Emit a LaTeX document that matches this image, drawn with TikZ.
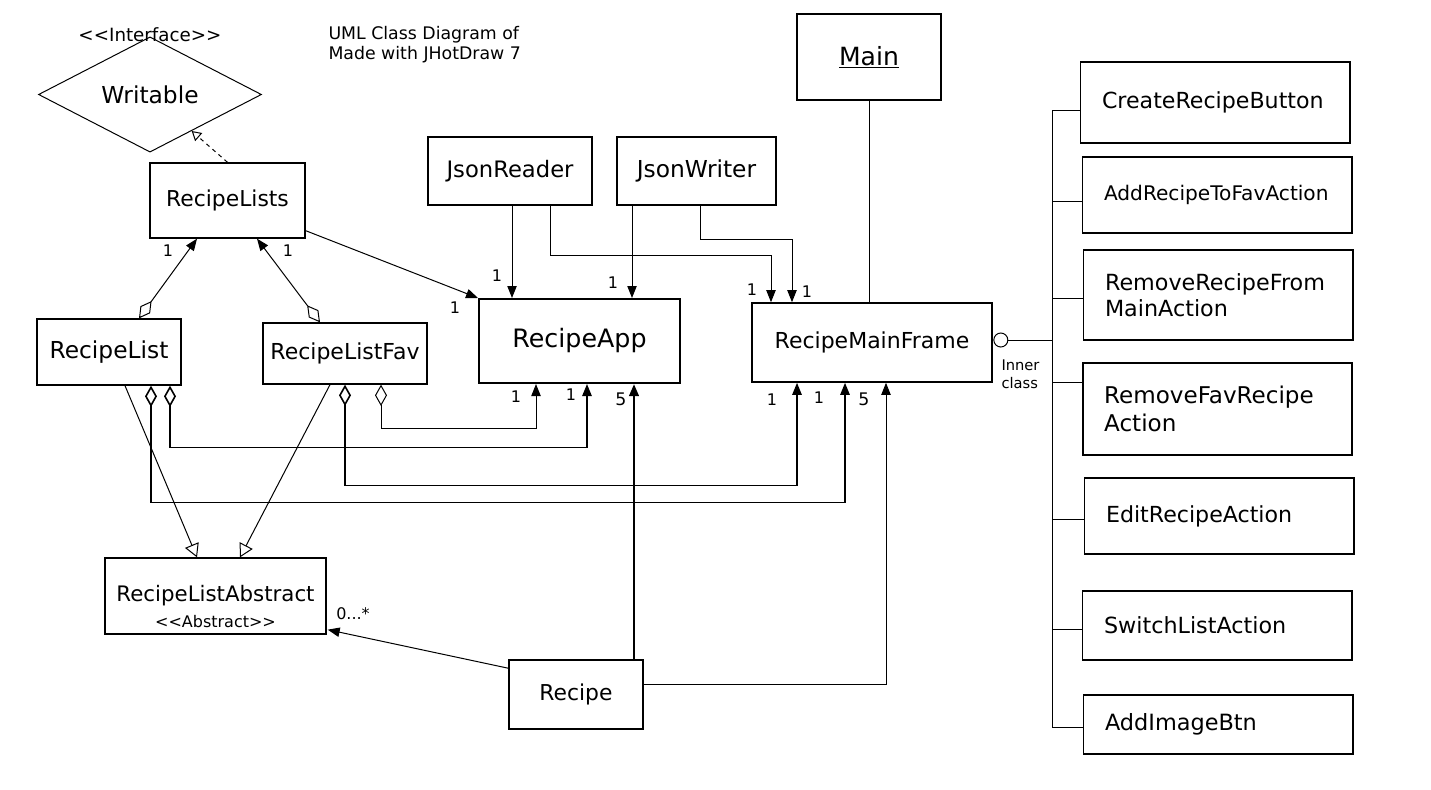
\documentclass[tikz,border=0pt]{standalone}
\usepackage{fontspec}
\setmainfont{DejaVu Sans}[Ligatures=TeXOff]
\usetikzlibrary{arrows.meta,shapes.geometric,calc}
\newcommand{\sz}[2]{\fontsize{#1}{#2}\selectfont}

\tikzset{every picture/.style={line width=0.75pt}}
\tikzset{
  cls/.style={draw, line width=1pt, inner sep=0pt, align=center},
  act/.style={draw, line width=1pt, anchor=west, inner xsep=16pt, inner ysep=0pt, text width=170pt, align=left},
  mult/.style={inner sep=0.75pt, font=\sz{12}{14}},
  assoc/.style={-{Triangle[length=9pt,width=7pt]}},
  aggr/.style={{Diamond[open,length=16pt,width=9pt]}-{Triangle[length=9pt,width=7pt]}},
  gen/.style={-{Triangle[open,length=10pt,width=11pt]}},
  real/.style={dashed, -{Triangle[open,length=7pt,width=8pt]}},
}

\begin{document}
\begin{tikzpicture}[x=0.75pt,y=0.75pt,yscale=-1,xscale=1]
%set diagram to 1431 x 789
\fill [white] (0,0) rectangle (1431,789);
\path [use as bounding box] (0,0) rectangle (1431,789);

% Text Node
\draw (327,25) node [anchor=north west][inner sep=0.75pt][align=left, font=\sz{13}{15}] (title) {UML Class Diagram of\\Made with JHotDraw 7};
% Text Node
\draw (150,35) node [inner sep=0.75pt][font=\sz{13.7}{16}] (stereo) {<<Interface>>};
%Shape: Diamond
\draw (150,94.5) node [diamond, draw, minimum width=167.25pt, minimum height=78.75pt, inner sep=0pt, font=\sz{17.5}{21}] (Writable) {Writable};

%Shape: Rectangle
\draw (227.5,200.5) node [cls, minimum width=116.25pt, minimum height=56.25pt, font=\sz{16.4}{20}] (RecipeLists) {RecipeLists};
%Shape: Rectangle
\draw (109,352) node [cls, minimum width=108pt, minimum height=49.5pt, font=\sz{17.5}{21}] (RecipeList) {RecipeList};
%Shape: Rectangle
\draw (345,353.5) node [cls, minimum width=123pt, minimum height=45.75pt, font=\sz{16.5}{20}] (RecipeListFav) {RecipeListFav};
%Shape: Rectangle
\draw (579.5,341) node [cls, line width=1.5pt, minimum width=150.75pt, minimum height=63pt, font=\sz{19}{23}] (RecipeApp) {RecipeApp};
%Shape: Rectangle
\draw (510,171) node [cls, line width=1.2pt, minimum width=123pt, minimum height=51pt, font=\sz{17}{21}] (JsonReader) {JsonReader};
%Shape: Rectangle
\draw (696.5,171) node [cls, line width=1.2pt, minimum width=119.25pt, minimum height=51pt, font=\sz{17.5}{21}] (JsonWriter) {JsonWriter};
%Shape: Rectangle
\draw (869,57) node [cls, minimum width=108pt, minimum height=64.5pt, font=\sz{18.8}{22}] (Main) {\underline{Main}};
%Shape: Rectangle
\draw (872,342.5) node [cls, line width=1.2pt, minimum width=180pt, minimum height=59.25pt, font=\sz{16.5}{20}] (RMF) {RecipeMainFrame};
%Shape: Rectangle
\draw (215.5,596) node [cls, minimum width=165.75pt, minimum height=57pt, font=\sz{16}{20}] (RLA) {\rule{0pt}{28pt}RecipeListAbstract\\{\sz{12}{14}<<Abstract>>}};
%Shape: Rectangle
\draw (576,694.5) node [cls, line width=1.2pt, minimum width=100.5pt, minimum height=51.75pt, font=\sz{16.4}{20}] (Recipe) {Recipe};

%Shape: Rectangle (inner classes)
\draw (1080,102.5) node [act, minimum height=60.75pt, font=\sz{16.6}{21}] (CreateBtn) {CreateRecipeButton};
\draw (1082,195) node [act, minimum height=57pt, font=\sz{15.1}{18}] (AddFav) {AddRecipeToFavAction};
\draw (1083,295) node [act, minimum height=67.5pt, font=\sz{16.7}{19.5}] (RemoveMain) {RemoveRecipeFrom\\MainAction};
\draw (1082,409) node [act, line width=1.2pt, minimum height=69pt, font=\sz{17.3}{21}] (RemoveFav) {RemoveFavRecipe\\Action};
\draw (1084,516) node [act, minimum height=57pt, font=\sz{16.6}{20}] (EditAct) {EditRecipeAction};
\draw (1082,625.5) node [act, minimum height=51.75pt, font=\sz{16.7}{20}] (SwitchAct) {SwitchListAction};
\draw (1083,724.5) node [act, minimum height=44.25pt, font=\sz{16.8}{20}] (AddImg) {AddImageBtn};

%Shape: Circle (interface lollipop)
\draw ($(RMF.east)+(8,-2.5)$) node [circle, draw, minimum size=10.5pt, inner sep=0pt] (lolly) {};
% Text Node
\draw (1000,374) node [anchor=west][inner sep=0.75pt][align=left, font=\sz{11}{13.5}] (inner) {Inner\\class};

%Straight Lines: inner class bus
\coordinate (busTop) at (1052,110);
\coordinate (busBot) at (1052,727);
\draw (busTop) -- (busBot);
\draw (lolly) -- (lolly -| busTop);
\foreach \n/\dy in {CreateBtn/7.5, AddFav/6, RemoveMain/3, RemoveFav/-27, EditAct/3, SwitchAct/3.5, AddImg/2.5}
  \draw ($(\n.west)+(0,\dy)$) coordinate (t) -- (t -| busTop);

%Straight Lines: realization
\draw [real] (RecipeLists.north) -- (Writable);
%Straight Lines: aggregations to RecipeLists
\draw [aggr] ($(RecipeList.north)+(30,0)$) -- ($(RecipeLists.south)+(-30.5,0)$);
\draw [aggr] ($(RecipeListFav.north)+(-25,0)$) -- ($(RecipeLists.south)+(29.5,0)$);
%Straight Lines: associations
\draw [assoc] ($(RecipeLists.south east)+(0,-8)$) -- (RecipeApp.north west);
\draw [assoc] ($(JsonReader.south)+(2,0)$) -- ($(RecipeApp.north)+(-67.5,0)$);
\draw [assoc] ($(JsonReader.south)+(40,0)$) -- ++(0,50) -| ($(RMF.north)+(-101,0)$);
\draw [assoc] ($(JsonWriter.south)+(-64.5,0)$) -- ($(RecipeApp.north)+(52.5,0)$);
\draw [assoc] ($(JsonWriter.south)+(3.5,0)$) -- ++(0,34) -| ($(RMF.north)+(-80,0)$);
\draw (Main.south) -- (Main.south |- RMF.north);

%Straight Lines: aggregations below
\draw [aggr, line width=1.2pt] ($(RecipeList.south)+(42,0)$) -- ++(0,117) -| ($(RMF.south)+(-27,0)$);
\draw [aggr, line width=1.2pt] ($(RecipeList.south)+(61,0)$) -- ++(0,62) -| ($(RecipeApp.south)+(7.5,0)$);
\draw [aggr, line width=1.2pt] (RecipeListFav.south) -- ++(0,101) -| ($(RMF.south)+(-75,0)$);
\draw [aggr] ($(RecipeListFav.south)+(36,0)$) -- ++(0,44) -| ($(RecipeApp.south)+(-43.5,0)$);

%Straight Lines: generalizations
\draw [gen] ($(RecipeList.south)+(16,0)$) -- ($(RLA.north)+(-18.5,0)$);
\draw [gen] ($(RecipeListFav.south)+(-15,0)$) -- ($(RLA.north)+(24.5,0)$);

%Straight Lines: Recipe
\draw [assoc] ($(Recipe.north west)+(0,9)$) -- ($(RLA.south east)+(1,-5)$);
\draw [assoc, line width=2pt] ($(Recipe.north)+(58,0)$) -- ($(RecipeApp.south)+(54.5,0)$);
\draw [assoc] ($(Recipe.east)+(0,-10.5)$) -| ($(RMF.south)+(14,0)$);

% Text Node (multiplicities)
\draw (168,251) node [mult] (m1) {1};
\draw (288,251) node [mult] (m2) {1};
\draw (455,308) node [mult] (m3) {1};
\draw (497,276) node [mult] (m4) {1};
\draw (613,283) node [mult] (m5) {1};
\draw (752,290) node [mult] (m6) {1};
\draw (807,292) node [mult] (m7) {1};
\draw (516,397) node [mult] (m8) {1};
\draw (571,395) node [mult] (m9) {1};
\draw (621,399) node [mult, font=\sz{13}{15}] (m10) {5};
\draw (772,400) node [mult] (m11) {1};
\draw (819,398) node [mult] (m12) {1};
\draw (864,399) node [mult, font=\sz{13}{15}] (m13) {5};
\draw (353,614) node [mult] (m14) {0...*};

\end{tikzpicture}
\end{document}
